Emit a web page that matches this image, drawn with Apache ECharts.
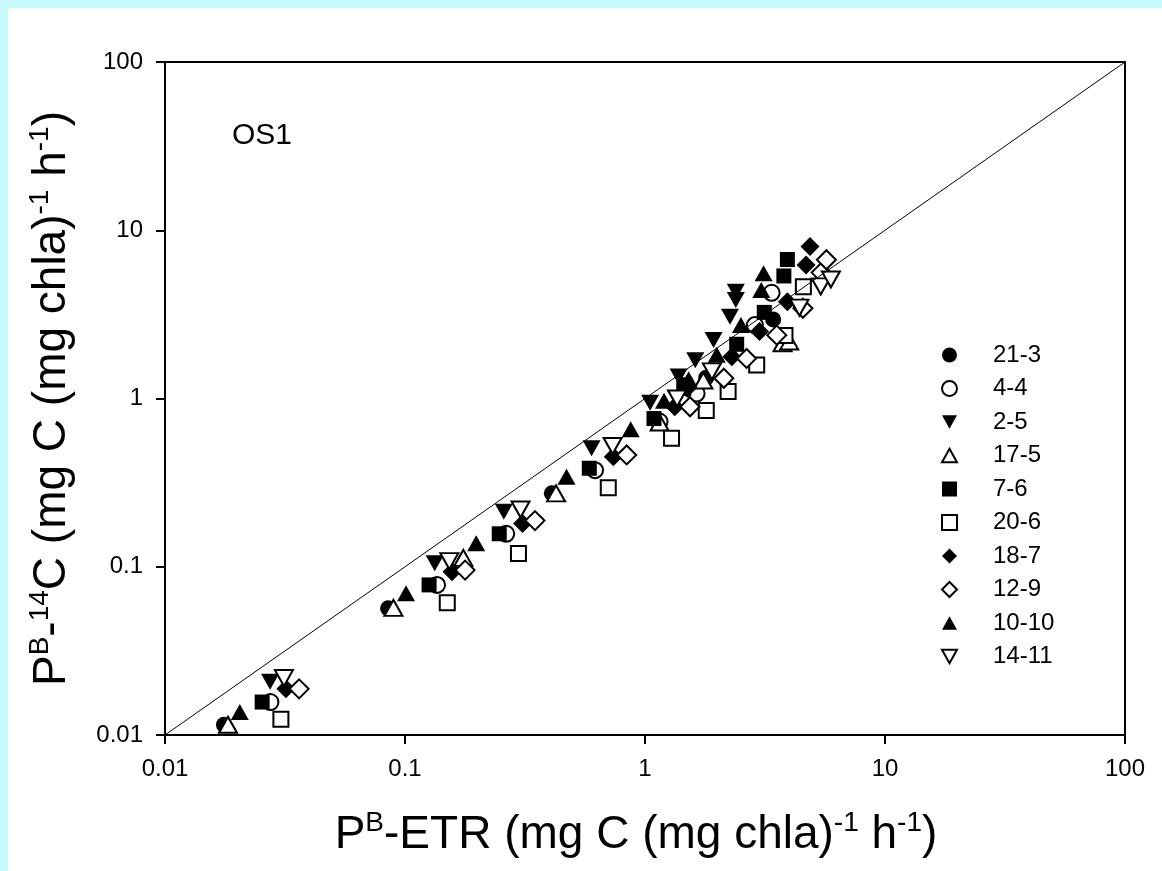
<!DOCTYPE html>
<html>
<head>
<meta charset="utf-8">
<script src="https://cdn.jsdelivr.net/npm/echarts@6/dist/echarts.min.js"></script>
<style>
  html, body { margin: 0; padding: 0; width: 1162px; height: 871px; overflow: hidden; background: #c6fafa; }
  #panel { position: absolute; left: 8px; top: 8px; right: 0; bottom: 0; background: #ffffff; }
  #chart { position: absolute; left: 0; top: 0; width: 1162px; height: 871px; }
</style>
</head>
<body>
<div id="panel"></div>
<div id="chart"></div>
<script>
// Tick labels for both log axes (decades 0.01 … 100)
const xTickLabels = ['0.01', '0.1', '1', '10', '100'];
const yTickLabels = ['0.01', '0.1', '1', '10', '100'];

// Sampling dates (legend order)
const dates = ['21-3', '4-4', '2-5', '17-5', '7-6', '20-6', '18-7', '12-9', '10-10', '14-11'];

// P^B-ETR (x) and P^B-14C (y) for each date, mg C (mg chla)^-1 h^-1
const etr_21_3 = [0.0176, 0.085, 0.409, 1.12, 1.80, 3.42];
const c14_21_3 = [0.0115, 0.0566, 0.273, 0.75, 1.33, 2.95];

const etr_4_4 = [0.0275, 0.136, 0.264, 0.619, 1.15, 1.64, 2.87, 3.37];
const c14_4_4 = [0.0157, 0.078, 0.157, 0.375, 0.73, 1.07, 2.73, 4.25];

const etr_2_5 = [0.0274, 0.133, 0.258, 0.599, 1.05, 1.38, 1.45, 1.62, 1.93, 2.26, 2.39, 2.39];
const c14_2_5 = [0.0207, 0.105, 0.212, 0.506, 0.944, 1.35, 1.2, 1.69, 2.23, 3.06, 3.85, 4.31];

const etr_17_5 = [0.0183, 0.0895, 0.175, 0.426, 1.15, 1.75, 3.74, 3.99];
const c14_17_5 = [0.0115, 0.057, 0.113, 0.273, 0.72, 1.28, 2.13, 2.18];

const etr_7_6 = [0.0254, 0.126, 0.247, 0.586, 1.09, 1.45, 2.41, 3.14, 3.79, 3.92];
const c14_7_6 = [0.0157, 0.078, 0.157, 0.385, 0.76, 1.15, 2.10, 3.25, 5.35, 6.70];

const etr_20_6 = [0.0304, 0.150, 0.297, 0.703, 1.29, 1.80, 2.22, 2.92, 3.83, 4.57];
const c14_20_6 = [0.0124, 0.061, 0.120, 0.295, 0.58, 0.85, 1.10, 1.58, 2.37, 4.62];

const etr_18_7 = [0.0319, 0.157, 0.309, 0.738, 1.33, 1.5, 2.30, 3.0, 3.92, 4.69, 4.87];
const c14_18_7 = [0.0188, 0.0935, 0.181, 0.451, 0.893, 1.15, 1.77, 2.5, 3.76, 6.21, 8.0];

const etr_12_9 = [0.0362, 0.178, 0.348, 0.839, 1.54, 2.13, 2.65, 3.54, 4.55, 5.42, 5.70];
const c14_12_9 = [0.0188, 0.0955, 0.188, 0.462, 0.893, 1.32, 1.73, 2.38, 3.44, 5.60, 6.68];

const etr_10_10 = [0.0205, 0.101, 0.198, 0.471, 0.872, 1.2, 1.52, 1.99, 2.51, 3.05, 3.12];
const c14_10_10 = [0.0137, 0.0695, 0.138, 0.343, 0.656, 0.97, 1.3, 1.82, 2.73, 4.42, 5.55];

const etr_14_11 = [0.0313, 0.153, 0.303, 0.733, 1.36, 1.90, 4.40, 5.40, 5.95];
const c14_14_11 = [0.0218, 0.108, 0.219, 0.522, 1.0, 1.45, 3.47, 4.64, 5.10];

// 1:1 reference line end points
const oneToOne = [0.01, 100];

const FONT = '"Liberation Sans", Arial, Helvetica, sans-serif';

// Symbol shapes (the inverted triangle is a path so the legend shows it the same way)
const SYM = {
  circle: 'circle',
  square: 'rect',
  diamond: 'diamond',
  up: 'path://M5,0 L10,9 L0,9 Z',
  down: 'path://M0,0 L10,0 L5,9 Z'
};

// Marker style per date: shape and fill
const markers = [
  { name: '21-3',  x: etr_21_3,  y: c14_21_3,  symbol: SYM.circle,  filled: true,  size: [16, 16] },
  { name: '4-4',   x: etr_4_4,   y: c14_4_4,   symbol: SYM.circle,  filled: false, size: [16, 16] },
  { name: '2-5',   x: etr_2_5,   y: c14_2_5,   symbol: SYM.down,    filled: true,  size: [18, 16] },
  { name: '17-5',  x: etr_17_5,  y: c14_17_5,  symbol: SYM.up,      filled: false, size: [18, 16] },
  { name: '7-6',   x: etr_7_6,   y: c14_7_6,   symbol: SYM.square,  filled: true,  size: [15, 15] },
  { name: '20-6',  x: etr_20_6,  y: c14_20_6,  symbol: SYM.square,  filled: false, size: [15, 15] },
  { name: '18-7',  x: etr_18_7,  y: c14_18_7,  symbol: SYM.diamond, filled: true,  size: [19, 19] },
  { name: '12-9',  x: etr_12_9,  y: c14_12_9,  symbol: SYM.diamond, filled: false, size: [19, 19] },
  { name: '10-10', x: etr_10_10, y: c14_10_10, symbol: SYM.up,      filled: true,  size: [18, 16] },
  { name: '14-11', x: etr_14_11, y: c14_14_11, symbol: SYM.down,    filled: false, size: [18, 16] }
];

const scatterSeries = markers.map(m => ({
  type: 'scatter',
  name: m.name,
  data: m.x.map((v, i) => [v, m.y[i]]),
  symbol: m.symbol,
  symbolSize: m.size,
  itemStyle: {
    color: m.filled ? '#000000' : '#ffffff',
    borderColor: '#000000',
    borderWidth: m.filled ? 0 : 2,
    opacity: 1
  },
  emphasis: { disabled: true },
  silent: true,
  z: 2
}));

const lineSeries = {
  type: 'line',
  name: '1:1',
  data: oneToOne.map(v => [v, v]),
  symbol: 'none',
  lineStyle: { color: '#000000', width: 1 },
  silent: true,
  z: 5
};

const axisCommon = {
  type: 'log',
  logBase: 10,
  min: 0.01,
  max: 100,
  splitNumber: 4,
  axisLine: { show: true, lineStyle: { color: '#000000', width: 2 } },
  axisTick: { show: true, inside: false, length: 9, lineStyle: { color: '#000000', width: 2 } },
  minorTick: { show: false },
  splitLine: { show: false },
  nameLocation: 'middle'
};

const titleRich = {
  n: { fontSize: 46, fontFamily: FONT, color: '#000000', lineHeight: 52 },
  s: { fontSize: 28, fontFamily: FONT, color: '#000000', lineHeight: 28, verticalAlign: 'top' }
};

const chart = echarts.init(document.getElementById('chart'), null, { renderer: 'canvas' });

chart.setOption({
  backgroundColor: 'transparent',
  animation: false,
  title: {
    text: 'OS1',
    left: 227,
    top: 116,
    textStyle: { fontFamily: FONT, fontSize: 30, fontWeight: 'normal', color: '#000000' }
  },
  legend: {
    data: dates,
    orient: 'vertical',
    left: 941,
    top: 343,
    padding: 0,
    itemWidth: 15,
    itemHeight: 15,
    itemGap: 9.5,
    selectedMode: false,
    textStyle: { fontFamily: FONT, fontSize: 24, color: '#000000', lineHeight: 24, padding: [0, 0, 0, 31] }
  },
  grid: {
    left: 165,
    top: 62,
    width: 960,
    height: 673,
    show: true,
    borderColor: '#000000',
    borderWidth: 2,
    backgroundColor: 'transparent'
  },
  xAxis: Object.assign({}, axisCommon, {
    axisLabel: {
      fontFamily: FONT, fontSize: 24, color: '#000000', margin: 22,
      formatter: v => xTickLabels[Math.round(Math.log10(v)) + 2]
    },
    name: '{n|P}{s|B}{n|-ETR (mg C (mg chla)}{s|-1}{n| h}{s|-1}{n|)}',
    nameGap: 74,
    nameTextStyle: { rich: titleRich, padding: [0, 18, 0, 0] }
  }),
  yAxis: Object.assign({}, axisCommon, {
    axisLabel: {
      fontFamily: FONT, fontSize: 24, color: '#000000', margin: 22,
      formatter: v => yTickLabels[Math.round(Math.log10(v)) + 2]
    },
    name: '{n|P}{s|B}{n|-}{s|14}{n|C (mg C (mg chla)}{s|-1}{n| h}{s|-1}{n|)}',
    nameRotate: 90,
    nameGap: 87,
    nameTextStyle: { rich: titleRich }
  }),
  series: scatterSeries.concat([lineSeries])
});
</script>
</body>
</html>
